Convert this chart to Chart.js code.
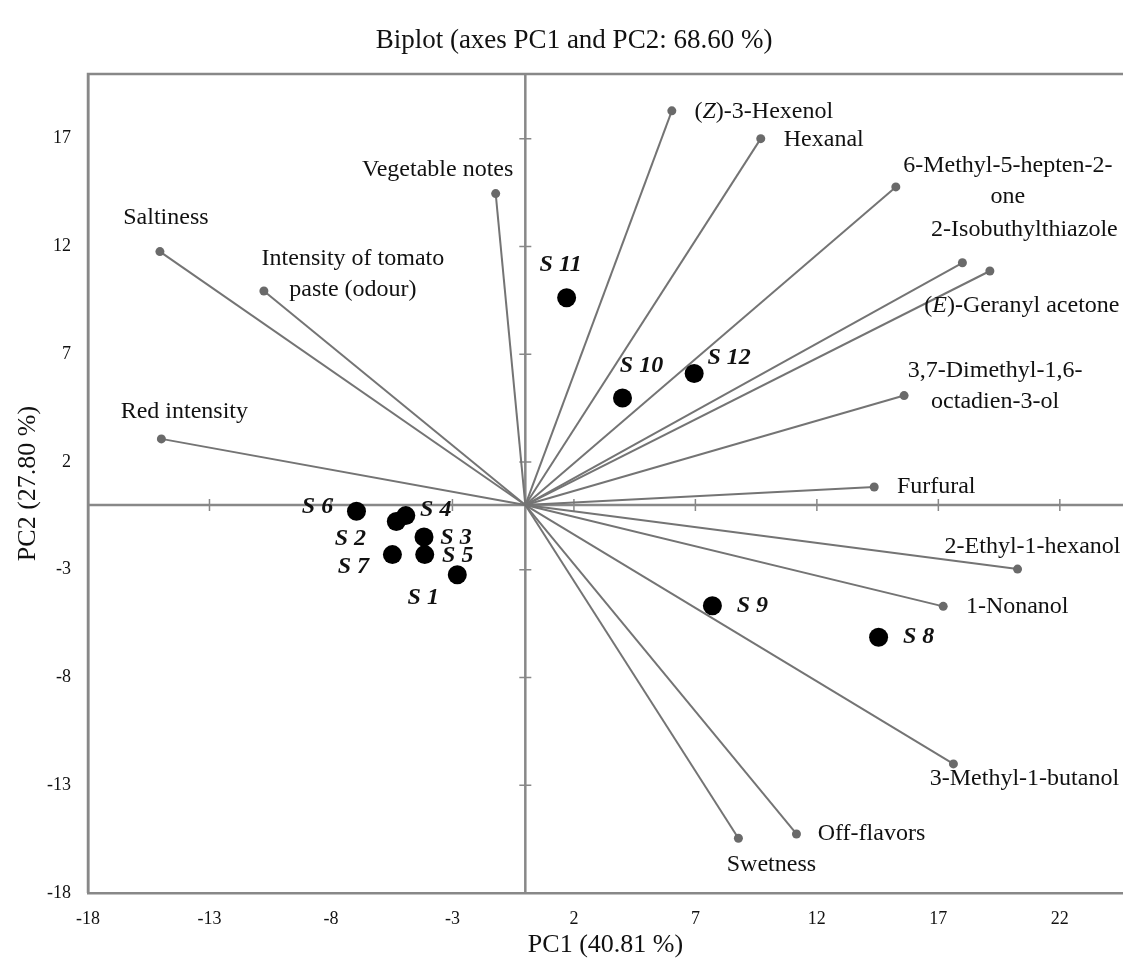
<!DOCTYPE html>
<html><head><meta charset="utf-8">
<script src="https://cdn.jsdelivr.net/npm/chart.js@4.4.1/dist/chart.umd.min.js"></script>
<style>html,body{margin:0;padding:0;background:#fff;}#wrap{width:1123px;height:966px;}</style>
</head><body><div id="wrap"><canvas id="c" width="1123" height="966"></canvas></div>
<script>
// ---- data ----
const variableNames = ["(Z)-3-Hexenol","Hexanal","Vegetable notes","6-Methyl-5-hepten-2-\none","Saltiness","Intensity of tomato\npaste (odour)","2-Isobuthylthiazole","(E)-Geranyl acetone","3,7-Dimethyl-1,6-\noctadien-3-ol","Red intensity","Furfural","2-Ethyl-1-hexanol","1-Nonanol","3-Methyl-1-butanol","Off-flavors","Swetness"];
const variablePC1 = [6.03, 9.69, -1.22, 15.25, -15.04, -10.76, 17.99, 19.12, 15.59, -14.98, 14.36, 20.26, 17.20, 17.62, 11.16, 8.77];
const variablePC2 = [18.29, 17.00, 14.45, 14.76, 11.76, 9.93, 11.24, 10.86, 5.08, 3.07, 0.84, -2.97, -4.70, -12.01, -15.26, -15.46];
const sampleNames = ["S 1","S 2","S 3","S 4","S 5","S 6","S 7","S 8","S 9","S 10","S 11","S 12"];
const samplePC1 = [-2.80, -5.31, -4.17, -4.92, -4.14, -6.95, -5.47, 14.54, 7.70, 4.00, 1.70, 6.95];
const samplePC2 = [-3.23, -0.76, -1.48, -0.49, -2.30, -0.29, -2.30, -6.13, -4.67, 4.97, 9.62, 6.10];
const xTickValues = [-18, -13, -8, -3, 2, 7, 12, 17, 22];
const yTickValues = [-18, -13, -8, -3, 2, 7, 12, 17];
const chartTitle = "Biplot (axes PC1 and PC2: 68.60 %)";
const xTitle = "PC1 (40.81 %)";
const yTitle = "PC2 (27.80 %)";

// ---- layout / style (label offsets in px from the point) ----
const SERIF = "'Liberation Serif','Times New Roman',serif";
const varLabelOffset = [[92,1],[63,1],[-58,-24],[112,-6],[6,-34],[89,-17],[62,-33],[32,35],[91,-9],[23,-27],[62,0],[15,-22],[74,0],[71,15],[75,0],[33,26]];
const sampleLabelOffset = [[-34,23],[-46,17],[32,1],[30,-6],[33,1],[-39,-5],[-39,12],[40,0],[40,0],[19,-32],[-6,-33],[35,-16]];
const LINE_COLOR = '#747474', VAR_DOT = '#6a6a6a', AXIS_COLOR = '#888888';

const datasets = [];
variableNames.forEach((n, i) => {
  datasets.push({
    label: n.replace('\n',''),
    data: [{x: 0, y: 0}, {x: variablePC1[i], y: variablePC2[i]}],
    showLine: true, borderColor: LINE_COLOR, borderWidth: 2,
    pointRadius: [0, 4.5], pointBackgroundColor: VAR_DOT, pointBorderWidth: 0,
    pointHoverRadius: [0, 4.5], order: 2
  });
});
datasets.push({
  label: 'Samples',
  data: samplePC1.map((x, i) => ({x: x, y: samplePC2[i]})),
  showLine: false, pointRadius: 9.5, pointBackgroundColor: '#000', pointBorderWidth: 0,
  pointHoverRadius: 9.5, order: 0
});

function drawRich(ctx, line, cx, cy, size, bold) {
  const w = bold ? 'bold ' : '';
  const normal = w + size + 'px ' + SERIF;
  const italic = 'italic ' + w + size + 'px ' + SERIF;
  let segs;
  const m = line.match(/^\((Z|E)\)(.*)$/);
  if (m) segs = [['(', normal], [m[1], italic], [')' + m[2], normal]];
  else segs = [[line, bold ? italic : normal]];
  let total = 0;
  segs.forEach(s => { ctx.font = s[1]; total += ctx.measureText(s[0]).width; });
  let x = cx - total / 2;
  ctx.textAlign = 'left'; ctx.textBaseline = 'middle';
  segs.forEach(s => { ctx.font = s[1]; ctx.fillText(s[0], x, cy); x += ctx.measureText(s[0]).width; });
}

const decor = {
  id: 'decor',
  beforeDatasetsDraw(chart) {
    const {ctx, chartArea: a, scales: {x, y}} = chart;
    const x0 = x.getPixelForValue(0), y0 = y.getPixelForValue(0);
    ctx.save();
    ctx.strokeStyle = AXIS_COLOR; ctx.lineWidth = 2.5;
    ctx.beginPath();
    ctx.moveTo(a.left, y0); ctx.lineTo(a.right, y0);
    ctx.moveTo(x0, a.top); ctx.lineTo(x0, a.bottom);
    ctx.stroke();
    ctx.lineWidth = 1.5;
    ctx.beginPath();
    xTickValues.forEach(v => { if (v === xTickValues[0]) return; const px = x.getPixelForValue(v); ctx.moveTo(px, y0 - 6); ctx.lineTo(px, y0 + 6); });
    yTickValues.forEach(v => { if (v === yTickValues[0]) return; const py = y.getPixelForValue(v); ctx.moveTo(x0 - 6, py); ctx.lineTo(x0 + 6, py); });
    ctx.stroke();
    ctx.lineWidth = 2.5; ctx.strokeStyle = AXIS_COLOR;
    ctx.beginPath();
    ctx.moveTo(a.left, a.bottom); ctx.lineTo(a.left, a.top); ctx.lineTo(a.right + 2, a.top);
    ctx.stroke();
    ctx.restore();
  },
  afterDatasetsDraw(chart) {
    const ctx = chart.ctx;
    ctx.save();
    ctx.fillStyle = '#111';
    variableNames.forEach((n, i) => {
      const p = chart.getDatasetMeta(i).data[1];
      const lines = n.split('\n');
      const lh = 31;
      const cx = p.x + varLabelOffset[i][0];
      const cy = p.y + varLabelOffset[i][1] - (lines.length - 1) * lh / 2;
      lines.forEach((l, k) => drawRich(ctx, l, cx, cy + k * lh, 24, false));
    });
    const sm = chart.getDatasetMeta(variableNames.length);
    sampleNames.forEach((n, j) => {
      const p = sm.data[j];
      drawRich(ctx, n, p.x + sampleLabelOffset[j][0], p.y + sampleLabelOffset[j][1], 24, true);
    });
    ctx.fillStyle = '#111';
    ctx.font = '27px ' + SERIF; ctx.textAlign = 'center'; ctx.textBaseline = 'middle';
    ctx.fillText(chartTitle, 574, 41);
    ctx.restore();
  }
};

new Chart(document.getElementById('c'), {
  type: 'scatter',
  data: {datasets: datasets},
  options: {
    responsive: false, animation: false,
    layout: {autoPadding: false, padding: {top: 74, left: 0, right: 0, bottom: 0}},
    plugins: {legend: {display: false}, tooltip: {enabled: false}, title: {display: false}},
    scales: {
      x: {
        type: 'linear', min: -18, max: 24.6,
        afterBuildTicks: s => { s.ticks = xTickValues.map(v => ({value: v})); },
        afterFit: s => { s.height = 73; s.paddingRight = 0; s.paddingLeft = 0; },
        grid: {display: false, drawTicks: false},
        border: {display: true, color: AXIS_COLOR, width: 2.5},
        ticks: {color: '#111', font: {family: SERIF, size: 18}, padding: 15, maxRotation: 0, autoSkip: false},
        title: {display: true, text: xTitle, color: '#111', font: {family: SERIF, size: 26}, padding: {top: 0, bottom: 5}}
      },
      y: {
        type: 'linear', min: -18, max: 20,
        afterBuildTicks: s => { s.ticks = yTickValues.map(v => ({value: v})); },
        afterFit: s => { s.width = 88; },
        grid: {display: false, drawTicks: false},
        border: {display: true, color: AXIS_COLOR, width: 2.5},
        ticks: {color: '#111', font: {family: SERIF, size: 18}, padding: 17, autoSkip: false},
        title: {display: true, text: yTitle, color: '#111', font: {family: SERIF, size: 26}, padding: {top: 13, bottom: 0}}
      }
    }
  },
  plugins: [decor]
});
</script></body></html>
